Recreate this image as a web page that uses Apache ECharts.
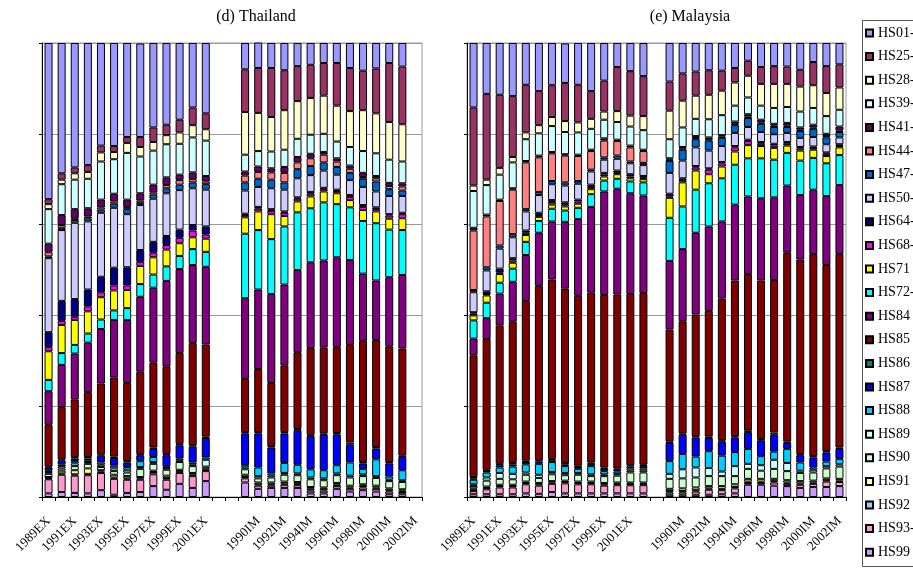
<!DOCTYPE html>
<html>
<head>
<meta charset="utf-8">
<script src="https://cdn.jsdelivr.net/npm/echarts@6/dist/echarts.min.js"></script>
<style>
  html, body { margin: 0; padding: 0; background: #fff; }
  #chart { width: 913px; height: 574px; }
</style>
</head>
<body>
<div id="chart"></div>
<script>
// HS commodity groups, listed top of stack first (legend order)
const hsCodes = ['HS01-', 'HS25-', 'HS28-', 'HS39-', 'HS41-', 'HS44-', 'HS47-', 'HS50-', 'HS64-', 'HS68-',
  'HS71', 'HS72-', 'HS84', 'HS85', 'HS86', 'HS87', 'HS88', 'HS89', 'HS90', 'HS91', 'HS92', 'HS93-', 'HS99'];
const hsColors = ['#9999FF', '#993366', '#FFFFCC', '#CCFFFF', '#660066', '#FF8080', '#0066CC', '#CCCCFF', '#000080', '#FF00FF',
  '#FFFF00', '#00FFFF', '#800080', '#800000', '#008080', '#0000FF', '#00CCFF', '#CCFFFF', '#CCFFCC', '#FFFF99', '#99CCFF', '#FF99CC', '#CC99FF'];

const exportYears = [1989, 1990, 1991, 1992, 1993, 1994, 1995, 1996, 1997, 1998, 1999, 2000, 2001, 2002];
const importYears = [1989, 1990, 1991, 1992, 1993, 1994, 1995, 1996, 1997, 1998, 1999, 2000, 2001, 2002];

// Shares (%) per year, columns follow hsCodes order
const thailandExports = [
  [34.4, 1.1, 1.1, 7.6, 1.9, 0.9, 0.4, 16.3, 3.3, 0.9, 6.3, 2.5, 7.4, 9.2, 0.2, 0.6, 0.4, 0.4, 0.7, 0.3, 0.2, 3.1, 0.8],
  [28.7, 1.4, 1.0, 6.8, 2.2, 0.6, 0.5, 15.6, 4.4, 0.9, 6.2, 2.6, 9.3, 11.5, 0.3, 0.8, 0.4, 0.5, 0.5, 0.6, 0.3, 3.8, 1.1],
  [27.4, 1.3, 1.4, 6.5, 2.0, 0.4, 0.6, 16.8, 3.9, 0.7, 5.5, 1.9, 10.1, 12.7, 0.3, 0.6, 0.5, 0.6, 0.9, 0.9, 0.3, 3.8, 0.9],
  [26.9, 1.5, 1.5, 6.5, 1.8, 0.4, 0.7, 15.0, 3.7, 1.1, 4.9, 2.0, 10.9, 14.3, 0.3, 0.4, 0.4, 0.4, 1.0, 1.2, 0.3, 4.0, 0.8],
  [22.6, 1.5, 2.0, 8.4, 1.7, 0.5, 0.7, 14.1, 3.4, 1.1, 4.9, 2.1, 12.0, 15.6, 0.3, 1.5, 0.5, 0.5, 0.7, 0.3, 0.3, 3.8, 1.5],
  [22.7, 1.3, 1.6, 7.6, 1.7, 0.5, 0.9, 13.2, 3.9, 1.1, 4.4, 2.1, 12.7, 17.4, 0.3, 1.7, 0.6, 0.6, 0.8, 0.6, 0.3, 3.5, 0.5],
  [20.7, 1.3, 2.2, 10.3, 1.6, 0.5, 1.1, 11.7, 4.0, 1.0, 4.0, 2.6, 13.9, 17.2, 0.3, 1.0, 0.6, 0.6, 0.8, 0.5, 0.3, 2.9, 0.9],
  [20.6, 2.2, 2.1, 8.1, 1.6, 0.5, 0.5, 9.9, 2.6, 0.9, 4.0, 2.8, 16.5, 18.1, 0.3, 1.3, 1.3, 0.4, 1.8, 0.3, 0.3, 2.7, 1.1],
  [18.6, 3.2, 1.9, 7.5, 1.7, 0.5, 0.9, 9.5, 2.4, 1.0, 3.8, 2.9, 16.5, 18.7, 0.3, 1.8, 1.1, 0.4, 1.5, 0.3, 0.5, 2.6, 2.4],
  [18.0, 2.3, 2.0, 7.3, 1.7, 0.7, 1.1, 9.4, 2.0, 1.0, 3.7, 3.2, 18.9, 19.2, 0.3, 2.4, 0.4, 0.4, 1.3, 0.5, 0.4, 2.2, 1.6],
  [16.9, 2.8, 2.5, 6.8, 1.2, 1.0, 1.2, 8.7, 1.8, 1.2, 2.8, 2.9, 18.5, 20.0, 0.3, 2.9, 0.4, 0.4, 1.7, 0.3, 0.4, 2.4, 2.9],
  [14.2, 3.9, 2.7, 7.7, 1.5, 0.7, 1.3, 8.1, 1.2, 1.5, 2.6, 3.5, 17.2, 22.5, 0.3, 3.5, 0.4, 0.4, 1.5, 0.4, 0.3, 2.6, 2.0],
  [15.5, 3.5, 2.5, 7.8, 1.2, 0.6, 1.2, 8.1, 1.8, 0.9, 2.9, 3.3, 17.1, 20.3, 0.3, 4.3, 0.5, 1.5, 0.4, 0.3, 0.3, 2.2, 3.5]
];
const thailandImports = [
  [5.8, 9.4, 9.4, 3.7, 0.9, 1.5, 1.8, 5.1, 0.3, 0.5, 3.6, 14.2, 17.8, 11.7, 0.3, 7.0, 0.5, 0.4, 1.2, 0.5, 0.3, 0.9, 3.2],
  [5.6, 9.9, 8.4, 3.4, 1.2, 1.5, 1.8, 4.4, 0.4, 0.6, 4.1, 13.1, 17.5, 13.9, 0.3, 7.5, 1.9, 0.5, 0.9, 0.4, 0.3, 0.7, 1.8],
  [5.5, 10.8, 7.6, 3.7, 0.9, 1.6, 1.9, 4.6, 0.4, 0.7, 5.5, 12.1, 19.6, 13.9, 0.3, 5.7, 0.5, 0.4, 1.1, 0.4, 0.3, 0.5, 2.0],
  [6.0, 8.8, 8.7, 3.8, 1.3, 2.1, 1.6, 4.8, 0.3, 0.7, 2.3, 12.8, 17.8, 14.7, 0.3, 6.5, 2.2, 0.4, 1.5, 0.4, 0.3, 0.7, 2.0],
  [5.1, 7.7, 8.3, 4.0, 1.2, 1.5, 2.0, 4.2, 0.3, 0.6, 2.4, 12.7, 18.1, 16.9, 0.3, 7.6, 1.9, 0.4, 1.5, 0.4, 0.3, 0.6, 2.0],
  [4.8, 7.3, 8.1, 4.2, 1.0, 1.7, 2.0, 3.7, 0.4, 0.6, 2.6, 11.9, 18.9, 19.1, 0.3, 7.3, 1.8, 0.4, 1.7, 0.4, 0.4, 0.6, 0.8],
  [4.4, 7.2, 8.4, 4.0, 0.6, 1.7, 1.8, 3.8, 0.3, 0.5, 2.4, 12.8, 19.2, 18.9, 0.3, 7.8, 1.8, 0.4, 1.6, 0.3, 0.4, 0.6, 0.8],
  [4.4, 9.4, 7.9, 3.7, 0.7, 1.2, 1.7, 3.3, 0.3, 0.5, 2.4, 11.7, 19.8, 18.9, 0.3, 6.8, 1.8, 0.4, 1.7, 0.4, 0.3, 0.6, 1.8],
  [5.5, 9.5, 7.9, 4.1, 0.7, 0.9, 1.6, 3.3, 0.4, 0.7, 1.6, 11.6, 18.7, 21.5, 0.5, 3.9, 2.9, 0.4, 1.8, 0.4, 0.3, 0.6, 1.2],
  [6.1, 8.7, 9.0, 4.8, 0.9, 0.4, 1.8, 4.0, 0.4, 0.7, 2.4, 11.6, 14.8, 26.7, 0.3, 1.2, 1.2, 0.4, 1.8, 0.4, 0.3, 0.6, 1.5],
  [5.6, 9.9, 8.8, 5.0, 0.5, 0.7, 2.2, 3.5, 0.4, 0.5, 2.6, 12.6, 13.1, 23.6, 0.3, 2.4, 3.7, 0.4, 1.7, 0.4, 0.3, 0.6, 1.2],
  [4.4, 13.0, 8.3, 5.1, 0.7, 0.7, 1.5, 4.0, 0.3, 0.7, 2.4, 10.5, 15.2, 25.5, 0.3, 2.9, 0.7, 0.3, 1.6, 0.4, 0.3, 0.6, 0.6],
  [5.2, 12.7, 8.2, 4.8, 0.7, 0.9, 1.2, 3.7, 0.3, 0.9, 2.6, 9.9, 16.2, 23.6, 0.3, 2.9, 2.2, 0.4, 1.6, 0.3, 0.3, 0.5, 0.6]
];
const malaysiaExports = [
  [14.2, 17.2, 1.2, 8.1, 0.6, 13.1, 0.5, 4.4, 0.3, 0.4, 1.1, 4.0, 3.7, 26.8, 0.3, 0.3, 1.0, 0.4, 0.5, 0.3, 0.3, 0.7, 0.6],
  [11.2, 18.9, 1.2, 6.5, 0.4, 11.2, 0.7, 4.6, 0.6, 0.3, 1.6, 3.4, 4.6, 28.8, 0.3, 0.3, 1.1, 0.7, 1.3, 0.3, 0.3, 1.1, 0.6],
  [11.4, 16.1, 1.5, 5.5, 0.3, 9.8, 0.7, 4.4, 0.9, 0.3, 1.9, 2.4, 7.0, 30.5, 0.3, 0.5, 1.2, 1.3, 1.3, 0.3, 0.3, 1.5, 0.6],
  [11.7, 13.4, 1.2, 5.7, 0.3, 9.8, 0.7, 4.6, 0.5, 0.5, 1.3, 2.9, 8.8, 31.1, 0.3, 0.5, 1.6, 1.2, 1.2, 0.3, 0.3, 1.5, 0.6],
  [9.2, 10.5, 1.5, 4.8, 0.3, 10.3, 0.5, 4.2, 0.5, 0.5, 1.5, 2.9, 10.1, 35.2, 0.3, 0.5, 1.8, 0.5, 1.5, 0.3, 0.3, 2.0, 0.8],
  [10.6, 7.5, 1.8, 4.9, 0.4, 7.6, 0.7, 3.9, 0.5, 0.4, 0.9, 2.6, 11.7, 38.4, 0.3, 0.5, 2.4, 0.7, 1.1, 0.3, 0.3, 1.8, 0.7],
  [9.3, 7.0, 2.0, 5.7, 0.3, 6.1, 0.7, 3.5, 0.4, 0.6, 0.9, 2.8, 12.8, 39.5, 0.3, 0.4, 2.2, 0.5, 1.5, 0.3, 0.3, 1.8, 1.1],
  [8.7, 8.4, 2.4, 4.9, 0.3, 5.9, 0.7, 3.7, 0.4, 0.5, 0.9, 2.5, 14.7, 38.4, 0.3, 0.4, 1.5, 0.5, 1.2, 0.3, 0.3, 2.2, 0.8],
  [9.2, 8.3, 2.2, 4.9, 0.3, 5.5, 0.6, 3.5, 0.4, 0.5, 0.9, 2.5, 16.9, 37.4, 0.3, 0.4, 0.9, 0.4, 1.5, 0.3, 0.3, 2.0, 0.8],
  [10.6, 6.1, 2.2, 4.6, 0.3, 4.1, 0.4, 2.9, 0.5, 0.5, 1.1, 2.8, 18.9, 37.4, 0.3, 0.5, 1.8, 0.4, 1.2, 0.3, 0.3, 2.0, 0.8],
  [8.3, 6.8, 1.8, 4.1, 0.5, 3.7, 0.5, 2.9, 0.4, 0.4, 0.9, 2.4, 22.8, 38.0, 0.3, 0.5, 0.7, 0.4, 1.5, 0.3, 0.3, 1.7, 0.8],
  [5.3, 9.7, 2.4, 3.9, 0.3, 3.2, 0.7, 2.6, 0.5, 0.3, 1.0, 2.2, 23.3, 38.3, 0.3, 0.4, 0.5, 0.4, 1.5, 0.3, 0.3, 1.8, 0.8],
  [6.2, 9.8, 2.4, 4.2, 0.4, 3.1, 0.4, 2.4, 0.5, 0.4, 0.7, 2.6, 22.2, 37.7, 0.3, 0.4, 0.5, 0.4, 2.2, 0.3, 0.3, 1.8, 0.8],
  [7.3, 8.8, 3.1, 4.3, 0.3, 2.6, 0.5, 2.4, 0.4, 0.3, 0.7, 2.9, 21.5, 37.8, 0.3, 0.5, 0.5, 0.4, 2.2, 0.3, 0.3, 1.8, 0.8]
];
const malaysiaImports = [
  [8.5, 6.4, 6.3, 4.2, 0.3, 0.3, 2.6, 4.6, 0.6, 0.3, 4.4, 9.5, 15.1, 24.7, 0.3, 4.0, 2.8, 1.1, 2.2, 0.5, 0.3, 0.5, 0.5],
  [6.7, 6.0, 5.9, 4.3, 0.3, 0.3, 2.4, 3.9, 0.4, 0.5, 5.3, 9.4, 15.9, 24.7, 0.3, 4.2, 3.4, 2.0, 2.2, 0.6, 0.3, 0.5, 0.5],
  [6.3, 5.3, 5.1, 3.8, 0.4, 0.3, 1.8, 4.1, 0.3, 0.7, 4.2, 9.5, 18.0, 26.8, 0.3, 4.2, 2.4, 2.2, 2.2, 0.6, 0.3, 0.7, 0.5],
  [6.0, 5.4, 5.4, 4.0, 0.4, 0.3, 2.2, 3.9, 0.3, 1.0, 2.0, 9.5, 18.6, 27.7, 0.3, 2.9, 3.7, 1.8, 2.2, 0.5, 0.3, 1.1, 0.5],
  [6.1, 4.4, 5.4, 4.4, 0.3, 0.3, 1.8, 3.5, 0.3, 0.7, 2.6, 9.5, 17.0, 31.2, 0.3, 3.1, 3.5, 1.0, 2.2, 0.6, 0.3, 0.9, 0.6],
  [5.5, 3.2, 5.1, 3.5, 0.5, 0.3, 1.7, 2.9, 0.3, 0.9, 2.9, 8.8, 16.7, 34.3, 0.3, 3.2, 3.1, 2.2, 1.8, 0.6, 0.3, 1.1, 0.8],
  [3.9, 3.3, 4.8, 3.7, 0.5, 0.3, 2.0, 2.8, 0.3, 0.9, 2.9, 8.4, 17.1, 34.5, 0.3, 3.7, 3.3, 1.1, 2.2, 0.6, 0.3, 0.4, 2.7],
  [5.3, 3.7, 4.8, 3.1, 0.6, 0.3, 1.8, 2.2, 0.4, 0.5, 2.7, 8.8, 18.1, 34.9, 0.3, 3.5, 2.0, 1.2, 1.8, 0.6, 0.3, 0.4, 2.7],
  [5.1, 3.9, 5.3, 3.5, 0.4, 0.3, 1.6, 2.1, 0.4, 0.5, 2.6, 8.3, 18.2, 33.6, 0.5, 3.7, 1.8, 2.0, 2.2, 0.5, 0.3, 0.7, 2.5],
  [5.2, 3.8, 5.1, 3.5, 0.6, 0.3, 1.3, 2.0, 0.4, 0.4, 1.6, 7.2, 14.8, 41.6, 0.3, 1.3, 3.1, 1.8, 2.0, 0.5, 0.3, 0.5, 2.4],
  [5.9, 3.7, 5.5, 3.5, 0.5, 0.3, 1.5, 2.0, 0.3, 0.5, 2.2, 7.6, 14.2, 42.8, 0.3, 1.6, 1.8, 0.5, 1.8, 0.5, 0.3, 0.7, 2.0],
  [4.2, 5.1, 5.0, 3.7, 0.6, 0.3, 1.8, 2.1, 0.3, 0.4, 1.8, 7.0, 14.2, 44.5, 0.3, 2.2, 0.5, 0.6, 1.8, 0.4, 0.3, 0.7, 2.2],
  [5.1, 5.9, 5.1, 3.9, 0.5, 0.3, 1.5, 1.8, 0.3, 0.5, 1.6, 7.2, 15.2, 41.0, 0.3, 2.0, 1.0, 0.5, 2.2, 0.4, 0.3, 1.2, 2.2],
  [4.7, 5.1, 4.9, 3.7, 0.9, 0.3, 1.2, 1.5, 0.4, 0.3, 1.7, 6.6, 15.2, 42.6, 0.3, 2.2, 1.2, 0.5, 2.7, 0.4, 0.3, 0.9, 2.4]
];

const SERIF = '"Liberation Serif", "Times New Roman", serif';

// Category axis: exports, one blank slot, imports
const categories = [
  ...exportYears.map(y => y + 'EX'),
  '',
  ...importYears.map(y => y + 'IM')
];

function columnFor(exRows, imRows, s) {
  return [
    ...exportYears.map((y, i) => (exRows[i] ? exRows[i][s] : null)),
    null,
    ...importYears.map((y, i) => (imRows[i] ? imRows[i][s] : null))
  ];
}

const panels = [
  { ex: thailandExports, im: thailandImports, left: 42, width: 380 },
  { ex: malaysiaExports, im: malaysiaImports, left: 467, width: 379 }
];

const grids = [], xAxes = [], yAxes = [], series = [];
panels.forEach((p, g) => {
  grids.push({
    left: p.left, top: 43, width: p.width, height: 454,
    show: true, borderColor: '#999', borderWidth: 1
  });
  xAxes.push({
    type: 'category', gridIndex: g, data: categories, boundaryGap: true,
    axisLine: { lineStyle: { color: '#000', width: 1 } },
    axisTick: { show: true, interval: 0, length: 4, lineStyle: { color: '#000' } },
    axisLabel: { interval: 1, rotate: 45, margin: 22, color: '#000', fontFamily: SERIF, fontSize: 13 },
    splitLine: { show: false }
  });
  yAxes.push({
    type: 'value', gridIndex: g, min: 0, max: 100, interval: 20,
    axisLine: { show: true, lineStyle: { color: '#000', width: 1 } },
    axisTick: { show: true, length: 3, lineStyle: { color: '#000' } },
    axisLabel: { show: false },
    splitLine: { show: true, lineStyle: { color: '#999', width: 1 } }
  });
  // stack from the bottom group (last code) up to the top group (first code)
  for (let s = hsCodes.length - 1; s >= 0; s--) {
    series.push({
      name: hsCodes[s], type: 'bar', stack: 'panel' + g,
      xAxisIndex: g, yAxisIndex: g, barWidth: 8,
      itemStyle: { color: hsColors[s], borderColor: '#000', borderWidth: 1 },
      emphasis: { disabled: true },
      data: columnFor(p.ex, p.im, s)
    });
  }
});

const chart = echarts.init(document.getElementById('chart'), null, { renderer: 'canvas' });
chart.setOption({
  animation: false,
  backgroundColor: '#fff',
  grid: grids,
  xAxis: xAxes,
  yAxis: yAxes,
  legend: {
    data: hsCodes, orient: 'vertical', left: 865, top: 26,
    icon: 'rect', itemWidth: 7, itemHeight: 7, itemGap: 9.6, padding: 0,
    selectedMode: false,
    textStyle: { fontFamily: SERIF, fontSize: 14, color: '#000', lineHeight: 14 }
  },
  graphic: [
    { type: 'rect', shape: { x: 862.5, y: 20.5, width: 70, height: 546 },
      style: { fill: 'none', stroke: '#555', lineWidth: 1 }, z: -1 },
    { type: 'text', x: 256, y: 9,
      style: { text: '(d) Thailand', fontFamily: SERIF, fontSize: 16, fill: '#000', textAlign: 'center' } },
    { type: 'text', x: 690, y: 9,
      style: { text: '(e) Malaysia', fontFamily: SERIF, fontSize: 16, fill: '#000', textAlign: 'center' } }
  ],
  series: series
});
</script>
</body>
</html>
